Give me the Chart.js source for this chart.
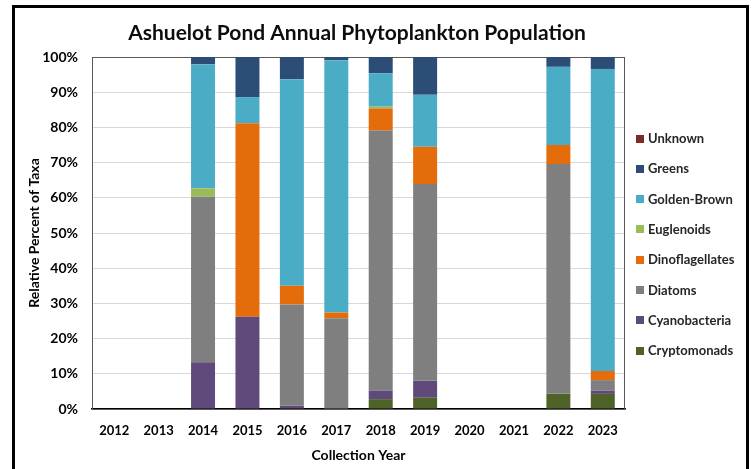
<!DOCTYPE html>
<html>
<head>
<meta charset="utf-8">
<script src="https://cdn.jsdelivr.net/npm/chart.js@4"></script>
<style>
  html, body { margin:0; padding:0; background:#fff; }
  #wrap { position:relative; width:753px; height:469px; overflow:hidden; }
  #frame { position:absolute; left:12px; top:5px; width:731px; height:480px; border:3px solid #000; box-sizing:content-box; }
  canvas { position:absolute; left:0; top:0; }
</style>
</head>
<body>
<div id="wrap">
  <div id="frame"></div>
  <canvas id="c" width="753" height="469"></canvas>
</div>
<script>
const years = ['2012','2013','2014','2015','2016','2017','2018','2019','2020','2021','2022','2023'];
const cryptomonads    = [null,null,0,0,0,0,2.8,3.2,null,null,4.3,4.3];
const cyanobacteria   = [null,null,13.3,26.2,0.9,0,2.4,4.8,null,null,0,0.9];
const diatoms         = [null,null,47.0,0,28.8,25.8,73.9,55.9,null,null,65.3,3.0];
const dinoflagellates = [null,null,0,55.0,5.3,1.6,6.3,10.6,null,null,5.4,2.6];
const euglenoids      = [null,null,2.4,0,0,0,0.5,0,null,null,0,0];
const goldenBrown     = [null,null,35.2,7.4,58.7,71.7,9.5,14.8,null,null,22.2,85.8];
const greens          = [null,null,2.1,11.4,6.3,0.9,4.6,10.7,null,null,2.8,3.4];
const unknown         = [null,null,0,0,0,0,0,0,null,null,0,0];
const yTicks = [0,10,20,30,40,50,60,70,80,90,100];
const titleText = 'Ashuelot Pond Annual Phytoplankton Population';

const series = [
  {label:'Cryptomonads', data:cryptomonads, color:'#4F6228'},
  {label:'Cyanobacteria', data:cyanobacteria, color:'#604A7B'},
  {label:'Diatoms', data:diatoms, color:'#7F7F7F'},
  {label:'Dinoflagellates', data:dinoflagellates, color:'#E46C0A'},
  {label:'Euglenoids', data:euglenoids, color:'#9BBB59'},
  {label:'Golden-Brown', data:goldenBrown, color:'#4BACC6'},
  {label:'Greens', data:greens, color:'#2C4D75'},
  {label:'Unknown', data:unknown, color:'#7B2C2C'}
];

const FONT = 'Lato, "Open Sans", sans-serif';

const framePlugin = {
  id:'framePlugin',
  beforeDatasetsDraw(chart){
    const {ctx, chartArea:a} = chart;
    ctx.save();
    ctx.strokeStyle = '#595959';
    ctx.lineWidth = 1;
    ctx.strokeRect(Math.round(a.left)+0.5, Math.round(a.top)+0.5, Math.round(a.right-a.left)-1, Math.round(a.bottom-a.top));
    ctx.restore();
  },
  afterDraw(chart){
    const {ctx} = chart;
    ctx.save();
    // title
    ctx.font = 'bold 21px ' + FONT;
    ctx.fillStyle = '#0d0d0d';
    ctx.textAlign = 'center';
    ctx.textBaseline = 'alphabetic';
    ctx.fillText(titleText, 357, 40);
    // legend
    const items = series.slice().reverse();
    ctx.font = 'bold 13px ' + FONT;
    ctx.textBaseline = 'middle';
    ctx.textAlign = 'left';
    items.forEach((s,i)=>{
      const y = 138.5 + i*30.3;
      ctx.fillStyle = s.color;
      ctx.fillRect(636, Math.round(y-4), 8, 8);
      ctx.fillStyle = '#262626';
      ctx.fillText(s.label, 648, y+0.5);
    });
    ctx.restore();
  }
};

new Chart(document.getElementById('c'), {
  type:'bar',
  data:{
    labels: years,
    datasets: series.map(s=>({label:s.label, data:s.data, backgroundColor:s.color, borderWidth:0,
      barPercentage:0.54, categoryPercentage:1.0}))
  },
  options:{
    responsive:false,
    animation:false,
    devicePixelRatio:1,
    layout:{padding:{left:0,right:128,top:57,bottom:0}},
    plugins:{
      legend:{display:false},
      tooltip:{enabled:false},
      title:{display:false}
    },
    scales:{
      x:{
        stacked:true,
        grid:{display:false, drawTicks:false},
        border:{display:true, color:'#000', width:1.5},
        ticks:{color:'#000', font:{family:FONT, size:13, weight:'bold'}, padding:14, maxRotation:0},
        title:{display:true, text:'Collection Year', color:'#000',
          font:{family:FONT, size:14, weight:'bold', lineHeight:1.2}, padding:{top:0,bottom:5}},
        afterFit(scale){ scale.height = 60; }
      },
      y:{
        stacked:true, min:0, max:100,
        afterBuildTicks(scale){ scale.ticks = yTicks.map(v=>({value:v})); },
        grid:{color:'#D9D9D9', drawTicks:false, lineWidth:1},
        border:{display:false},
        ticks:{color:'#000', font:{family:FONT, size:14, weight:'bold'}, padding:14,
          callback:(v)=>v+'%'},
        title:{display:true, text:'Relative Percent of Taxa', color:'#000',
          font:{family:FONT, size:14, weight:'bold', lineHeight:1.2}, padding:{top:26,bottom:0}},
        afterFit(scale){ scale.width = 92; }
      }
    }
  },
  plugins:[framePlugin]
});
</script>
</body>
</html>
